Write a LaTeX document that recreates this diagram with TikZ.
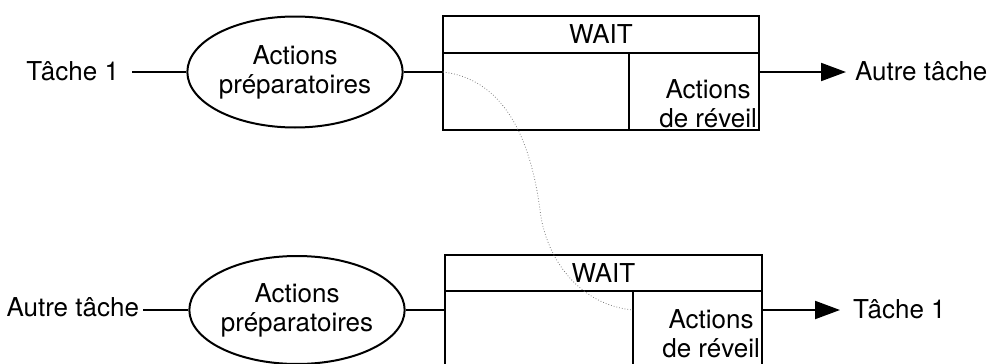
\documentclass[tikz,border=0pt]{standalone}
\usepackage{fontspec}
\setmainfont{TeX Gyre Heros}
\usetikzlibrary{positioning}
\usetikzlibrary{shapes.geometric}
\usetikzlibrary{arrows.meta}
\tikzset{prep node/.style={ellipse,draw,line width=2pt,minimum width=187pt,minimum height=111pt,inner sep=0pt,align=center},
  cell node/.style={rectangle,draw,line width=2.2pt,inner sep=0pt,outer sep=0pt},
  text node/.style={inner sep=0pt},}

\begin{document}
\begin{tikzpicture}[x=1pt,y=-1pt,font=\fontsize{26}{29}\selectfont]
    \useasboundingbox (0,0) rectangle (997,364);

    \node[prep node] (e1) at (295,72) {Actions\\préparatoires};
    \node[text node, anchor=base east, outer xsep=13pt] (t1) at (132,80) {Tâche 1};
    \node[cell node, minimum width=316pt, minimum height=37pt, anchor=north west] (w1) at (443,16) {WAIT};
    \node[cell node, minimum width=186pt, minimum height=77pt, anchor=north west] (l1) at (w1.south west) {};
    \node[cell node, minimum width=130pt, minimum height=77pt, anchor=north west] (r1) at (l1.north east) {};
    \node[text node, align=center, anchor=south east] (a1) at ([shift={(-2,-2)}]r1.south east) {Actions\\de réveil};
    \node[text node, anchor=base west, outer xsep=9pt] (o1) at (846,80) {Autre tâche};

    \node[prep node, minimum width=189pt, minimum height=108pt] (e2) at (297,310) {Actions\\préparatoires};
    \node[text node, anchor=base east, outer xsep=4pt] (t2) at (143,316) {Autre tâche};
    \node[cell node, minimum width=317pt, minimum height=36pt, anchor=north west] (w2) at (445,255) {WAIT};
    \node[cell node, minimum width=188pt, minimum height=77pt, anchor=north west] (l2) at (w2.south west) {};
    \node[cell node, minimum width=129pt, minimum height=77pt, anchor=north west] (r2) at (l2.north east) {};
    \node[text node, align=center, anchor=south east] (a2) at ([shift={(-2,-10)}]r2.south east) {Actions\\de réveil};
    \node[text node, anchor=base west, outer xsep=13pt] (o2) at (840,318) {Tâche 1};

    \path[line width=2pt]
    (t1.east |- e1) edge (e1)
    (e1) edge (l1.west |- e1)
    (r1.east |- e1) edge[-{Triangle[length=25pt,width=18pt]}] (o1.west |- e1)
    (t2.east |- e2) edge (e2)
    (e2) edge (l2.west |- e2)
    (r2.east |- e2) edge[-{Triangle[length=25pt,width=18pt]}] (o2.west |- e2);

    \draw[dotted, gray, line width=0.8pt] (l1.west |- e1) .. controls (510,80) and (532,150) .. (540,210)
      .. controls (546,260) and (580,305) .. (r2.west |- e2);
  \end{tikzpicture}
\end{document}
